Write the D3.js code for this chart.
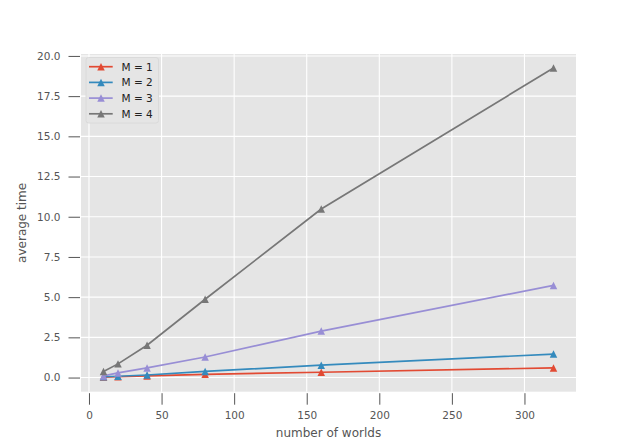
<!DOCTYPE html>
<html>
<head>
<meta charset="utf-8">
<script src="https://cdn.jsdelivr.net/npm/d3@7"></script>
<style>
  body { margin: 0; background: #fff; }
  svg { display: block; font-family: "DejaVu Sans", sans-serif; }
</style>
</head>
<body>
<script>
const worlds = [10, 20, 40, 80, 160, 320];
const m1 = [0.03, 0.05, 0.10, 0.20, 0.33, 0.60];
const m2 = [0.05, 0.08, 0.16, 0.38, 0.77, 1.46];
const m3 = [0.10, 0.29, 0.60, 1.28, 2.89, 5.73];
const m4 = [0.38, 0.85, 2.01, 4.87, 10.48, 19.25];
const seriesNames = ['M = 1', 'M = 2', 'M = 3', 'M = 4'];
const colors = ['#E24A33', '#348ABD', '#988ED5', '#777777'];
const xTicks = [0, 50, 100, 150, 200, 250, 300];
const yTicks = [0, 2.5, 5, 7.5, 10, 12.5, 15, 17.5, 20];

const W = 640, H = 440;
const pL = 81, pR = 576, pT = 54, pB = 391.7;

const svg = d3.select('body').append('svg')
    .attr('width', W)
    .attr('height', H);

const x = d3.scaleLinear().domain([-5.5, 335.5]).range([pL, pR]);
const y = d3.scaleLinear().domain([-0.88, 20.12]).range([pB, pT]);

// panel background
svg.append('rect')
    .attr('x', pL).attr('y', pT)
    .attr('width', pR - pL).attr('height', pB - pT)
    .attr('fill', '#E5E5E5');

// grid
svg.append('g').selectAll('line')
    .data(xTicks).enter().append('line')
    .attr('x1', d => x(d)).attr('x2', d => x(d))
    .attr('y1', pT).attr('y2', pB)
    .attr('stroke', '#fff').attr('stroke-width', 1.1);
svg.append('g').selectAll('line')
    .data(yTicks).enter().append('line')
    .attr('x1', pL).attr('x2', pR)
    .attr('y1', d => y(d)).attr('y2', d => y(d))
    .attr('stroke', '#fff').attr('stroke-width', 1.1);

// axes
const xAxis = d3.axisBottom(x).tickValues(xTicks).tickSize(11.5).tickPadding(7).tickFormat(d3.format('d'));
const yAxis = d3.axisLeft(y).tickValues(yTicks).tickSize(11.5).tickPadding(8).tickFormat(d3.format('.1f'));

const gx = svg.append('g')
    .attr('transform', `translate(0, ${pB + 1.5})`)
    .call(xAxis);
const gy = svg.append('g')
    .attr('transform', `translate(${pL - 1}, 0)`)
    .call(yAxis);

[gx, gy].forEach(g => {
    g.select('.domain').remove();
    g.selectAll('.tick line').attr('stroke', '#555555').attr('stroke-width', 1);
    g.selectAll('.tick text').attr('fill', '#555555')
        .style('font-size', '10.5px')
        .style('font-family', '"DejaVu Sans", sans-serif');
});

svg.append('text')
    .attr('x', (pL + pR) / 2)
    .attr('y', 436.5)
    .attr('text-anchor', 'middle')
    .attr('fill', '#555555')
    .style('font-size', '12px')
    .text('number of worlds');

svg.append('text')
    .attr('transform', `translate(25.5, ${(pT + pB) / 2}) rotate(-90)`)
    .attr('text-anchor', 'middle')
    .attr('fill', '#555555')
    .style('font-size', '12px')
    .text('average time');

// matplotlib-style '^' marker: as tall as it is wide
const mplTriangle = {
    draw(ctx, size) {
        const r = Math.sqrt(size) / 2;
        ctx.moveTo(0, -r);
        ctx.lineTo(r, r);
        ctx.lineTo(-r, r);
        ctx.closePath();
    }
};

// lines + markers
const allSeries = [m1, m2, m3, m4];
const line = d3.line()
    .x((d, i) => x(worlds[i]))
    .y(d => y(d));
const tri = d3.symbol().type(mplTriangle).size(56);

allSeries.forEach((vals, k) => {
    const g = svg.append('g');
    g.append('path')
        .datum(vals)
        .attr('d', line)
        .attr('fill', 'none')
        .attr('stroke', colors[k])
        .attr('stroke-width', 1.7);
    g.selectAll('path.m')
        .data(vals).enter().append('path')
        .attr('class', 'm')
        .attr('d', tri)
        .attr('transform', (d, i) => `translate(${x(worlds[i])}, ${y(d)})`)
        .attr('fill', colors[k]);
});

// legend
const lg = svg.append('g');
lg.append('rect')
    .attr('x', 86).attr('y', 57.5)
    .attr('width', 72.5).attr('height', 65.5)
    .attr('rx', 2.5)
    .attr('fill', '#E5E5E5')
    .attr('stroke', '#DADADA')
    .attr('stroke-width', 1);
seriesNames.forEach((name, k) => {
    const ly = 66.7 + k * 15.7;
    lg.append('line')
        .attr('x1', 89).attr('x2', 112.7)
        .attr('y1', ly).attr('y2', ly)
        .attr('stroke', colors[k]).attr('stroke-width', 1.7);
    lg.append('path')
        .attr('d', tri)
        .attr('transform', `translate(101, ${ly})`)
        .attr('fill', colors[k]);
    lg.append('text')
        .attr('x', 121.5).attr('y', ly + 3.8)
        .attr('fill', '#222')
        .style('font-size', '10.5px')
        .text(name);
});
</script>
</body>
</html>
